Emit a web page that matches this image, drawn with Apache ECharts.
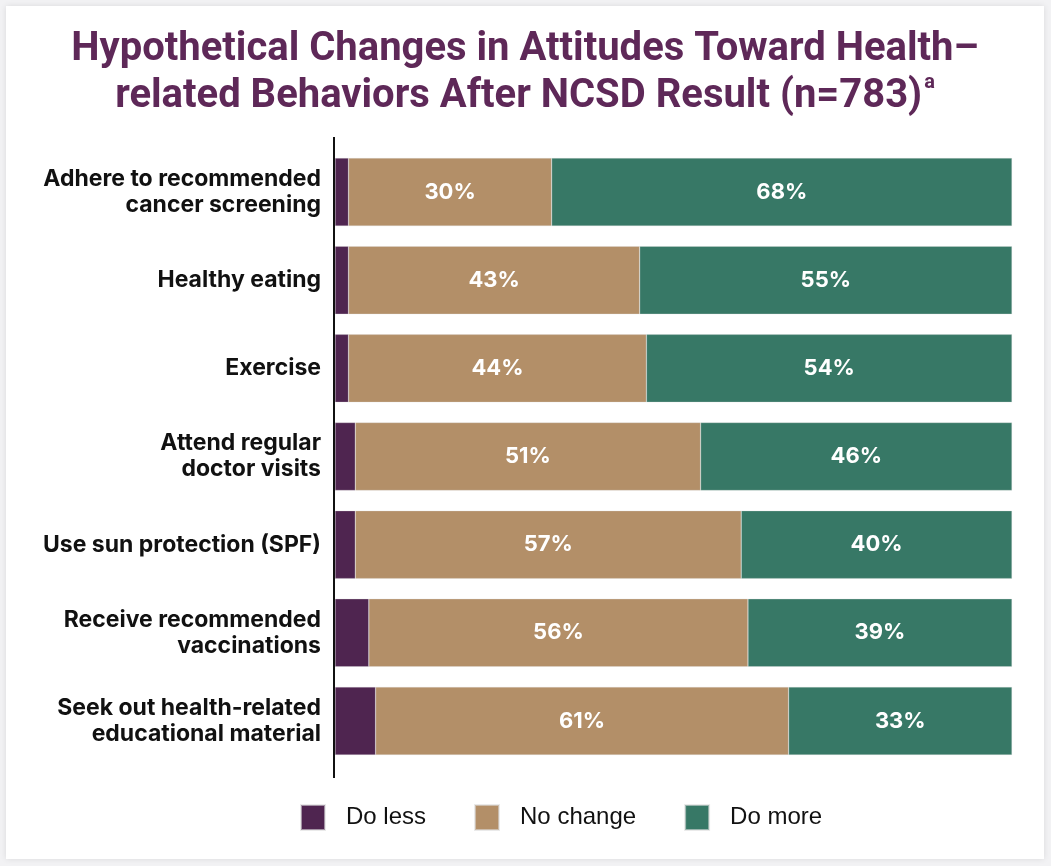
<!DOCTYPE html>
<html>
<head>
<meta charset="utf-8">
<script src="https://cdn.jsdelivr.net/npm/echarts@6/dist/echarts.min.js"></script>
<style>
  html, body { margin: 0; padding: 0; width: 1051px; height: 866px; background: #f2f2f4; overflow: hidden; }
  #card { position: absolute; left: 6px; top: 6px; width: 1038px; height: 853px; background: #ffffff;
          box-shadow: 0 0 6px rgba(0,0,0,0.10); }
  #chart { position: absolute; left: 0; top: 0; width: 1051px; height: 866px; }
</style>
</head>
<body>
<div id="card"></div>
<div id="chart"></div>
<script>
// Survey behaviours, top to bottom
const categories = [
  'Adhere to recommended\ncancer screening',
  'Healthy eating',
  'Exercise',
  'Attend regular\ndoctor visits',
  'Use sun protection (SPF)',
  'Receive recommended\nvaccinations',
  'Seek out health-related\neducational material'
];
// Percent of respondents per response
const doLess   = [2, 2, 2, 3, 3, 5, 6];
const noChange = [30, 43, 44, 51, 57, 56, 61];
const doMore   = [68, 55, 54, 46, 40, 39, 33];
const seriesNames = ['Do less', 'No change', 'Do more'];

const colors = ['#4f2550', '#b38f68', '#377866'];
const chart = echarts.init(document.getElementById('chart'), null, { renderer: 'canvas' });

const barLabel = {
  show: true,
  position: 'inside',
  color: '#ffffff',
  fontFamily: 'Inter',
  fontWeight: 700,
  fontSize: 22,
  formatter: p => p.value + '%'
};

function bar(name, data, color, withLabel) {
  return {
    name: name,
    type: 'bar',
    stack: 'total',
    data: data,
    barWidth: 68,
    itemStyle: { color: color, borderColor: 'rgba(220,220,220,0.6)', borderWidth: 0.5 },
    label: withLabel ? barLabel : { show: false },
    emphasis: { disabled: true }
  };
}

const option = {
  animation: false,
  title: {
    text: 'Hypothetical Changes in Attitudes Toward Health–\nrelated Behaviors After NCSD Result (n=783){sup|a}',
    left: 520,
    textAlign: 'center',
    top: 21,
    textStyle: {
      fontFamily: 'Roboto',
      fontWeight: 700,
      fontSize: 40,
      lineHeight: 47,
      color: '#5e2858',
      rich: {
        sup: { fontFamily: 'Roboto', fontWeight: 700, fontSize: 20, color: '#5e2858', verticalAlign: 'top', padding: [0, 0, 20, 2] }
      }
    }
  },
  legend: {
    data: seriesNames,
    left: 300,
    top: 804,
    padding: 0,
    itemWidth: 24,
    itemHeight: 25,
    itemGap: 48,
    icon: 'rect',
    textStyle: { fontFamily: 'Liberation Sans', fontSize: 24, color: '#111111', padding: [0, 0, 0, 16] }
  },
  grid: { left: 335, right: 39, top: 148, height: 617 },
  xAxis: {
    type: 'value',
    min: 0,
    max: 100,
    show: false
  },
  yAxis: {
    type: 'category',
    data: categories,
    inverse: true,
    axisLine: { show: false },
    axisTick: { show: false },
    axisLabel: {
      margin: 14,
      fontFamily: 'Inter',
      fontWeight: 700,
      fontSize: 23,
      lineHeight: 26,
      color: '#111111',
      align: 'right'
    }
  },
  series: [
    bar(seriesNames[0], doLess, colors[0], false),
    bar(seriesNames[1], noChange, colors[1], true),
    bar(seriesNames[2], doMore, colors[2], true)
  ]
};
chart.setOption(option);

// Vertical baseline drawn slightly past the first and last bands
const x0 = chart.convertToPixel({ xAxisIndex: 0 }, 0);
const yTop = chart.convertToPixel({ yAxisIndex: 0 }, categories[0]);
const yBot = chart.convertToPixel({ yAxisIndex: 0 }, categories[categories.length - 1]);
chart.setOption({
  graphic: [{
    type: 'line',
    shape: { x1: x0 - 1, y1: yTop - 55, x2: x0 - 1, y2: yBot + 57 },
    style: { stroke: '#111111', lineWidth: 2 },
    z: 10
  }]
});
</script>
</body>
</html>
